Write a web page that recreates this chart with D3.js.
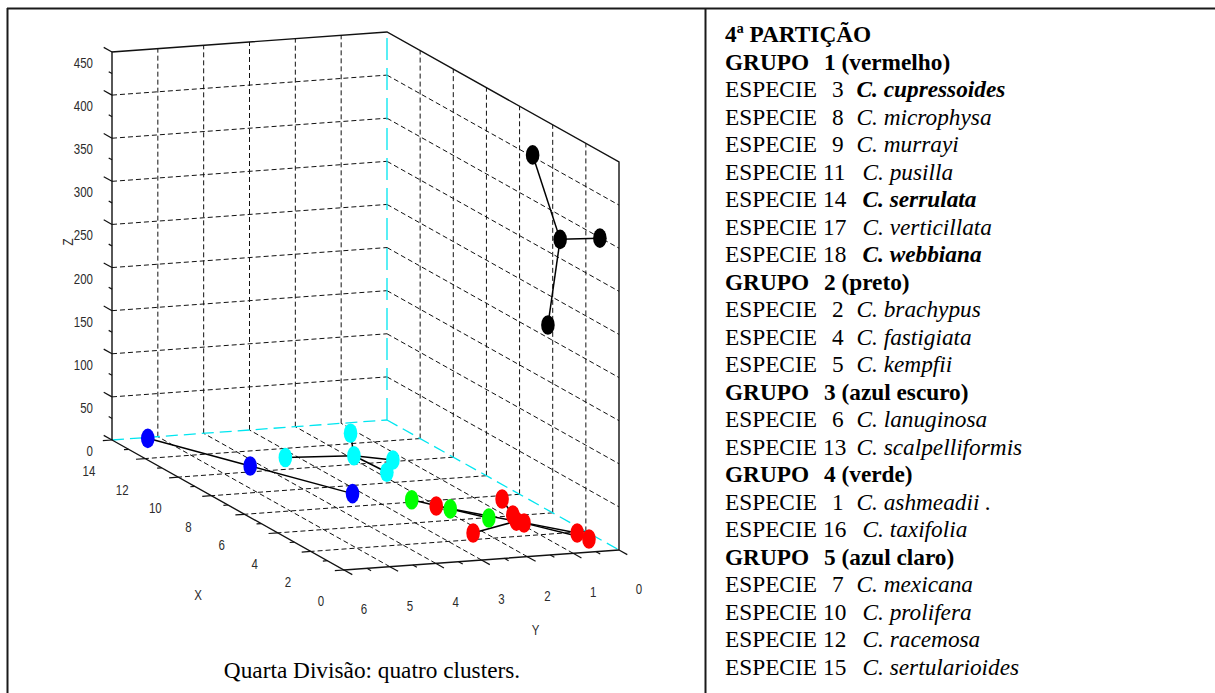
<!DOCTYPE html>
<html>
<head>
<meta charset="utf-8">
<script src="https://cdn.jsdelivr.net/npm/d3@7"></script>
<style>
  body { margin: 0; background: #fff; }
  svg { display: block; }
</style>
</head>
<body>
<script>
// ---- axis ranges and ticks ----
const xDomain = [0, 14];
const yDomain = [0, 6];
const zDomain = [0, 450];
const xTicks = [0, 2, 4, 6, 8, 10, 12, 14];
const yTicks = [0, 1, 2, 3, 4, 5, 6];
const zTicks = [0, 50, 100, 150, 200, 250, 300, 350, 400, 450];

// ---- species coordinates [X, Y, Z] per group ----
const grupo1 = [[4.64, 2.31, 10], [3.21, 1.39, 30], [2.84, 1.29, 15], [2.41, 1.20, 10],
                [2.22, 2.38, 5], [1.50, 0.37, 5], [1.01, 0.29, 3]];          // vermelho
const grupo2 = [[3.0, 0.8, 429], [0.6, 0.2, 356], [1.8, 0.9, 245]];            // preto
const grupo3 = [[13.5, 5.4, 5], [6.4, 3.5, 10]];                               // azul escuro
const grupo4 = [[5.4, 2.57, 10], [3.54, 1.56, 5]];                             // verde
const grupo5 = [[9.9, 3.7, 15], [9.7, 2.35, 40], [8.5, 1.86, 20], [8.2, 2.1, 10]]; // azul claro
const groupColors = ["#ff0000", "#000000", "#0000ff", "#00ff00", "#00ffff"];

// ---- side table text ----
const partitionTitle = "4ª PARTIÇÃO";
const groupTitles = ["1 (vermelho)", "2 (preto)", "3 (azul escuro)", "4 (verde)", "5 (azul claro)"];
const groupSpecies = [
  [[3, "C. cupressoides", true], [8, "C. microphysa"], [9, "C. murrayi"], [11, "C. pusilla"],
   [14, "C. serrulata", true], [17, "C. verticillata"], [18, "C. webbiana", true]],
  [[2, "C. brachypus"], [4, "C. fastigiata"], [5, "C. kempfii"]],
  [[6, "C. lanuginosa"], [13, "C. scalpelliformis", false, true]],
  [[1, "C. ashmeadii ."], [16, "C. taxifolia"]],
  [[7, "C. mexicana"], [10, "C. prolifera"], [12, "C. racemosa"], [15, "C. sertularioides"]]
];
const caption = "Quarta Divisão: quatro clusters.";

const W = 1215, H = 693;
const svg = d3.select("body").append("svg").attr("width", W).attr("height", H);

// ---- table frame ----
const frame = svg.append("g").attr("stroke", "#1a1a1a").attr("stroke-width", 2);
frame.append("line").attr("x1", 7).attr("x2", W).attr("y1", 8.5).attr("y2", 8.5);
frame.append("line").attr("x1", 7.5).attr("x2", 7.5).attr("y1", 8).attr("y2", H);
frame.append("line").attr("x1", 705.5).attr("x2", 705.5).attr("y1", 8).attr("y2", H);

// ---- oblique 3-D projection built from three linear scales ----
const sx = d3.scaleLinear().domain(xDomain).range([0, 1]);
const sy = d3.scaleLinear().domain(yDomain).range([0, 1]);
const sz = d3.scaleLinear().domain(zDomain).range([0, 1]);
const origin = [619, 550];        // screen position of (0,0,0)
const xVec = [-232, -130];        // screen span of the full X range
const yVec = [-275, 20];          // screen span of the full Y range
const zVec = [0, -388];           // screen span of the full Z range
function proj(x, y, z) {
  const a = sx(x), b = sy(y), c = sz(z);
  return [origin[0] + a * xVec[0] + b * yVec[0] + c * zVec[0],
          origin[1] + a * xVec[1] + b * yVec[1] + c * zVec[1]];
}

const plot = svg.append("g");
function seg(g, p, q) {
  return g.append("line").attr("x1", p[0]).attr("y1", p[1]).attr("x2", q[0]).attr("y2", q[1]);
}

const xMax = xDomain[1], yMax = yDomain[1], zMax = zDomain[1];

// dashed grid
const grid = plot.append("g").attr("stroke", "#111").attr("stroke-width", 1)
  .attr("stroke-dasharray", "5,3").attr("fill", "none");
yTicks.filter(y => y > 0 && y < yMax).forEach(y => {
  seg(grid, proj(xMax, y, 0), proj(xMax, y, zMax));   // back-left wall verticals
  seg(grid, proj(0, y, 0), proj(xMax, y, 0));         // floor
});
xTicks.filter(x => x > 0 && x < xMax).forEach(x => {
  seg(grid, proj(x, 0, 0), proj(x, 0, zMax));         // back-right wall verticals
  seg(grid, proj(x, 0, 0), proj(x, yMax, 0));         // floor
});
zTicks.filter(z => z > 0 && z < zMax).forEach(z => {
  seg(grid, proj(xMax, yMax, z), proj(xMax, 0, z));
  seg(grid, proj(xMax, 0, z), proj(0, 0, z));
});

// cyan back edges
const cyan = plot.append("g").attr("stroke", "#00e6f0").attr("stroke-width", 1.3).attr("fill", "none");
seg(cyan, proj(xMax, yMax, 0), proj(xMax, 0, 0)).attr("stroke-dasharray", "12,6");
seg(cyan, proj(xMax, 0, 0), proj(0, 0, 0)).attr("stroke-dasharray", "12,6");
seg(cyan, proj(xMax, 0, 0), proj(xMax, 0, zMax)).attr("stroke-dasharray", "22,8");

// solid box edges and axes
const box = plot.append("g").attr("stroke", "#111").attr("stroke-width", 1.4).attr("fill", "none");
const edgePath = pts => box.append("path").attr("d", d3.line()(pts));
edgePath([proj(xMax, yMax, 0), proj(xMax, yMax, zMax), proj(xMax, 0, zMax), proj(0, 0, zMax), proj(0, 0, 0)]);
edgePath([proj(xMax, yMax, 0), proj(0, yMax, 0), proj(0, 0, 0)]);

// tick marks
const ticks = plot.append("g").attr("stroke", "#111").attr("stroke-width", 1.2);
zTicks.forEach(z => seg(ticks, proj(xMax, yMax, z), proj(xMax + 0.5, yMax, z)));
zTicks.slice(1).forEach(z => seg(ticks, proj(xMax, yMax, z - 25), proj(xMax + 0.2, yMax, z - 25)));
xTicks.forEach(x => seg(ticks, proj(x, yMax, 0), proj(x, yMax + 0.2, 0)));
xTicks.slice(1).forEach(x => seg(ticks, proj(x - 1, yMax, 0), proj(x - 1, yMax + 0.1, 0)));
yTicks.forEach(y => seg(ticks, proj(0, y, 0), proj(-0.5, y, 0)));
yTicks.slice(1).forEach(y => seg(ticks, proj(0, y - 0.5, 0), proj(-0.25, y - 0.5, 0)));

// tick labels
const lab = plot.append("g").attr("font-family", "'Liberation Sans', Arial, sans-serif")
  .attr("font-size", 11.5).attr("fill", "#2b2b2b");
function label(x, y, txt, anchor, rot) {
  lab.append("text")
    .attr("transform", `translate(${x},${y})${rot ? ` rotate(${rot})` : ""} scale(1,1.25)`)
    .attr("text-anchor", anchor).attr("dy", "0.35em").text(txt);
}
zTicks.forEach(z => { const p = proj(xMax, yMax, z); label(p[0] - 19, p[1] + 11, z, "end"); });
xTicks.forEach(x => { const p = proj(x, yMax, 0); label(p[0] - 23, p[1] + 31, x, "middle"); });
yTicks.forEach(y => { const p = proj(0, y, 0); label(p[0] + 20, p[1] + 39, y, "middle"); });
label(68, 242, "Z", "middle", -90);
{ const p = proj(xMax / 2, yMax, 0); label(p[0] - 30, p[1] + 90, "X", "middle"); }
{ const p = proj(0, yMax / 2, 0); label(p[0] + 54, p[1] + 70, "Y", "middle"); }

// ---- groups: members joined to their centroid ----
const groups = [grupo1, grupo2, grupo3, grupo4, grupo5].map((pts, i) => ({
  pts,
  color: groupColors[i],
  centre: [d3.mean(pts, d => d[0]), d3.mean(pts, d => d[1]), d3.mean(pts, d => d[2])]
}));

const links = plot.append("g").attr("stroke", "#000").attr("stroke-width", 1.5);
groups.forEach(g => g.pts.forEach(p => seg(links, proj(...g.centre), proj(...p))));

const marks = plot.append("g");
groups.forEach(g => {
  [...g.pts, g.centre].forEach(p => {
    const q = proj(...p);
    marks.append("ellipse").attr("cx", q[0]).attr("cy", q[1])
      .attr("rx", 6.8).attr("ry", 9.8).attr("fill", g.color);
  });
});

// caption under the chart
svg.append("text").attr("x", 372).attr("y", 678).attr("text-anchor", "middle")
  .attr("font-family", "'Liberation Serif', 'Times New Roman', serif")
  .attr("font-size", 23.3).attr("fill", "#000").text(caption);

// ---- side list of groups and species ----
const panel = svg.append("g")
  .attr("font-family", "'Liberation Serif', 'Times New Roman', serif")
  .attr("font-size", 23.3).attr("fill", "#000");
const lineY = i => 42 + i * 27.52;
let row = 0;
panel.append("text").attr("x", 725).attr("y", lineY(row++))
  .attr("font-weight", "bold").text(partitionTitle);
groupTitles.forEach((gt, gi) => {
  const t = panel.append("text").attr("y", lineY(row++)).attr("font-weight", "bold");
  t.append("tspan").attr("x", 725).text("GRUPO");
  t.append("tspan").attr("x", 824).text(gt);
  groupSpecies[gi].forEach(([n, name, strong, tight]) => {
    const s = panel.append("text").attr("y", lineY(row++));
    s.append("tspan").attr("x", 725).text("ESPECIE");
    s.append("tspan").attr("x", n < 10 ? 832 : 823).text(n);
    s.append("tspan").attr("x", n < 10 || tight ? 856.5 : 862.5)
      .attr("font-style", "italic").attr("font-weight", strong ? "bold" : null).text(name);
  });
});
</script>
</body>
</html>
